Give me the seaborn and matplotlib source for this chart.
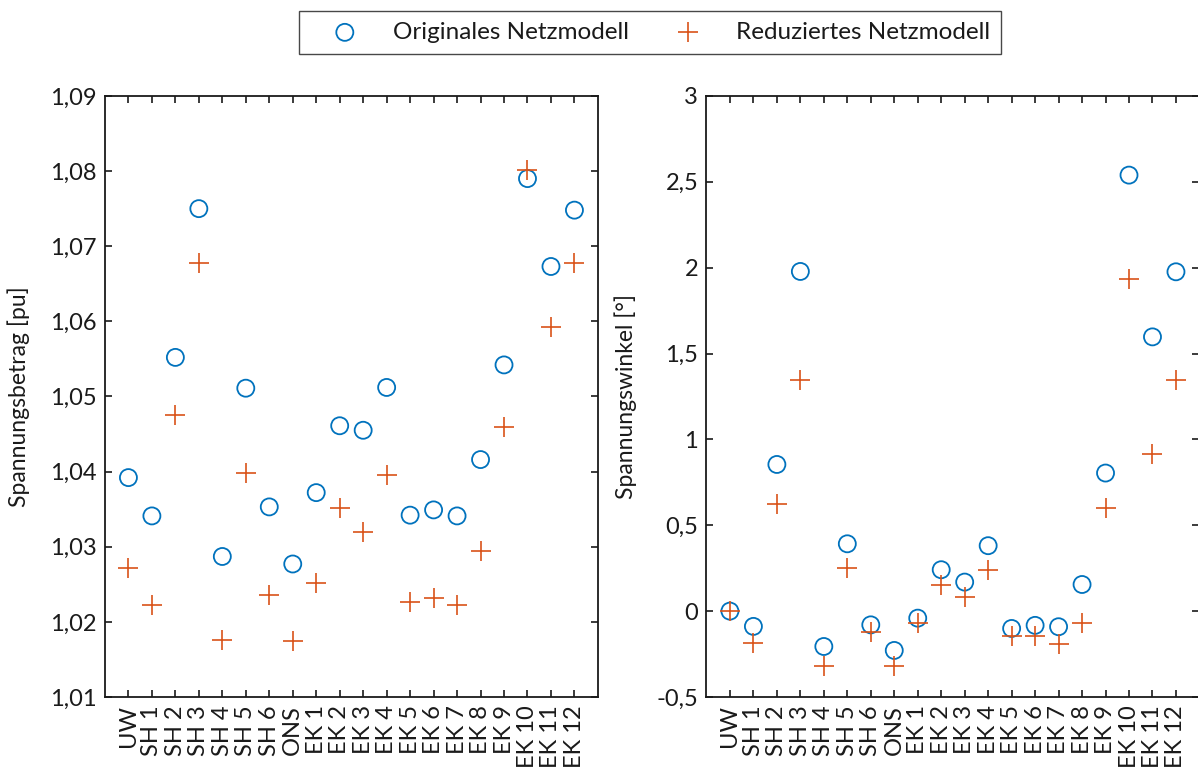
import numpy as np
import pandas as pd
import matplotlib
matplotlib.use('Agg')
import matplotlib.pyplot as plt
import seaborn as sns

knoten = ['UW', 'SH 1', 'SH 2', 'SH 3', 'SH 4', 'SH 5', 'SH 6', 'ONS',
          'EK 1', 'EK 2', 'EK 3', 'EK 4', 'EK 5', 'EK 6', 'EK 7', 'EK 8',
          'EK 9', 'EK 10', 'EK 11', 'EK 12']

betrag_orig = [1.0392, 1.0341, 1.0552, 1.0750, 1.0287, 1.0511, 1.0353, 1.0277,
               1.0372, 1.0461, 1.0455, 1.0512, 1.0342, 1.0349, 1.0341, 1.0416,
               1.0542, 1.0790, 1.0673, 1.0748]
betrag_red = [1.0272, 1.0223, 1.0475, 1.0678, 1.0176, 1.0398, 1.0236, 1.0174,
              1.0252, 1.0352, 1.0320, 1.0396, 1.0227, 1.0232, 1.0223, 1.0294,
              1.0460, 1.0802, 1.0592, 1.0677]

winkel_orig = [0.0, -0.089, 0.854, 1.978, -0.206, 0.392, -0.080, -0.229,
               -0.041, 0.241, 0.169, 0.381, -0.101, -0.083, -0.091, 0.155,
               0.804, 2.539, 1.597, 1.976]
winkel_red = [0.0, -0.188, 0.625, 1.347, -0.320, 0.250, -0.124, -0.322,
              -0.070, 0.151, 0.085, 0.237, -0.146, -0.146, -0.190, -0.068,
              0.602, 1.934, 0.913, 1.347]

betrag_ticks = [1.01, 1.02, 1.03, 1.04, 1.05, 1.06, 1.07, 1.08, 1.09]
winkel_ticks = [-0.5, 0, 0.5, 1, 1.5, 2, 2.5, 3]

BLAU = '#0072BD'
ORANGE = '#D95319'

sns.set_style('ticks')
plt.rcParams['font.family'] = ['Lato', 'DejaVu Sans']
plt.rcParams['font.size'] = 17
plt.rcParams['text.color'] = '#1a1a1a'
plt.rcParams['axes.labelcolor'] = '#1a1a1a'
plt.rcParams['xtick.color'] = '#1a1a1a'
plt.rcParams['ytick.color'] = '#1a1a1a'

df = pd.DataFrame({
    'knoten': knoten,
    'betrag_orig': betrag_orig,
    'betrag_red': betrag_red,
    'winkel_orig': winkel_orig,
    'winkel_red': winkel_red,
})


def fmt(v):
    return ('%g' % v).replace('.', ',')


fig = plt.figure(figsize=(11.98, 7.67), dpi=100)
ax1 = fig.add_axes([0.0876, 0.0913, 0.4115, 0.7836])
ax2 = fig.add_axes([0.5897, 0.0913, 0.4115, 0.7836])

panels = [
    (ax1, 'betrag_orig', 'betrag_red', betrag_ticks, 'Spannungsbetrag [pu]', 14),
    (ax2, 'winkel_orig', 'winkel_red', winkel_ticks, 'Spannungswinkel [°]', 14),
]

for ax, col_o, col_r, ticks, label, lpad in panels:
    sns.scatterplot(data=df, x='knoten', y=col_o, ax=ax, marker='o', s=150,
                    color=BLAU, facecolor='none', edgecolor=BLAU, linewidth=1.3,
                    label='Originales Netzmodell', legend=False)
    sns.scatterplot(data=df, x='knoten', y=col_r, ax=ax, marker='+', s=190,
                    color=ORANGE, linewidth=1.2,
                    label='Reduziertes Netzmodell', legend=False)
    ax.set_xlim(-1, len(knoten))
    ax.set_ylim(ticks[0], ticks[-1])
    ax.set_yticks(ticks)
    ax.set_yticklabels([fmt(t) for t in ticks])
    ax.set_xticks(range(len(knoten)))
    ax.set_xticklabels(knoten, rotation=90)
    ax.set_xlabel('')
    ax.set_ylabel(label, fontsize=16.5, labelpad=lpad)
    ax.tick_params(direction='in', length=5, width=1.2, top=True, right=True,
                   labelsize=17, pad=6)
    for sp in ax.spines.values():
        sp.set_linewidth(1.3)
        sp.set_color('#1a1a1a')

handles, labels = ax1.get_legend_handles_labels()
leg = fig.legend(handles, labels, loc='center', ncol=2,
                 bbox_to_anchor=(0.5426, 0.958), fancybox=False,
                 edgecolor='#1a1a1a', fontsize=17.5, columnspacing=0.95,
                 handlelength=2.9, handletextpad=0.55, borderpad=0.45)
leg.get_frame().set_linewidth(1.0)

fig.savefig('out.png', dpi=100)
